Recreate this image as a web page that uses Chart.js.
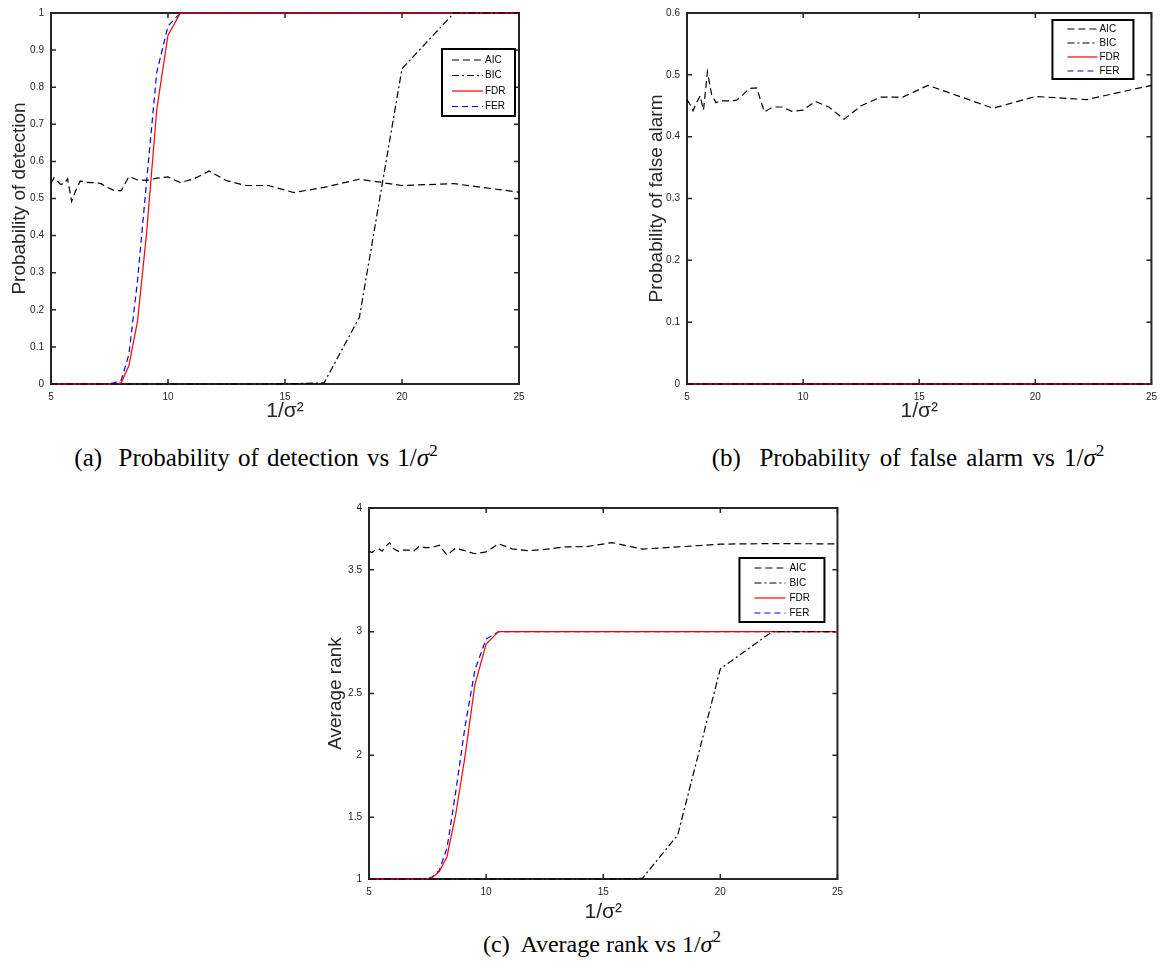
<!DOCTYPE html>
<html>
<head>
<meta charset="utf-8">
<script src="https://cdn.jsdelivr.net/npm/chart.js@4.4.1/dist/chart.umd.min.js"></script>
<style>
body{margin:0;background:#fff;width:1164px;height:966px;position:relative;overflow:hidden}
.box{position:absolute}
.cap{position:absolute;font-family:"Liberation Serif","Times New Roman",serif;font-size:25px;color:#000;white-space:nowrap;transform:translateX(-50%)}
.cap i{font-style:italic}
.cap sup{font-size:17px;vertical-align:10px;line-height:0}
</style>
</head>
<body>

<div class="box" style="left:0;top:0"><canvas id="pdChart" width="560" height="425"></canvas></div>
<div class="box" style="left:640px;top:0"><canvas id="pfaChart" width="524" height="425"></canvas></div>
<div class="box" style="left:320px;top:495px"><canvas id="rankChart" width="530" height="430"></canvas></div>

<div class="cap" style="left:256px;top:444px;word-spacing:2px">(a)&nbsp; Probability of detection vs 1/<i>σ</i><sup>2</sup></div>
<div class="cap" style="left:908px;top:444px;word-spacing:3px">(b)&nbsp; Probability of false alarm vs 1/<i>σ</i><sup>2</sup></div>
<div class="cap" style="left:602px;top:931px;font-size:24px">(c)&nbsp; Average rank vs 1/<i>σ</i><sup>2</sup></div>

<script>

// x values, 1/sigma^2
let snr = [5.0,5.13,5.26,5.41,5.56,5.71,5.88,6.06,6.25,6.45,6.67,6.9,7.14,7.41,7.69,8.0,8.33,8.7,9.09,9.52,10.0,10.53,11.11,11.76,12.5,13.33,14.29,15.38,16.67,18.18,20.0,22.22,25.0]

let labels = ["AIC","BIC","FDR","FER"]

// (a) probability of detection
let pdAIC = [0.541,0.556,0.548,0.538,0.540,0.553,0.492,0.522,0.547,0.544,0.543,0.543,0.540,0.530,0.522,0.521,0.559,0.550,0.549,0.555,0.558,0.543,0.553,0.574,0.548,0.535,0.535,0.516,0.530,0.552,0.535,0.540,0.517]
let pdBIC = [0,0,0,0,0,0,0,0,0,0,0,0,0,0,0,0,0,0,0,0,0,0,0,0,0,0,0,0.001,0.003,0.18,0.85,1,1]
let pdFDR = [0,0,0,0,0,0,0,0,0,0,0,0,0,0,0,0.003,0.05,0.17,0.41,0.74,0.94,1,1,1,1,1,1,1,1,1,1,1,1]
let pdFER = [0,0,0,0,0,0,0,0,0,0,0,0,0,0,0.003,0.01,0.08,0.28,0.55,0.84,0.965,1,1,1,1,1,1,1,1,1,1,1,1]

// (b) probability of false alarm
let pfaAIC = [0.460,0.452,0.442,0.455,0.466,0.443,0.505,0.468,0.455,0.458,0.458,0.458,0.459,0.468,0.478,0.479,0.440,0.448,0.448,0.441,0.443,0.457,0.448,0.428,0.450,0.464,0.464,0.483,0.466,0.446,0.465,0.460,0.483]
let pfaBIC = [0,0,0,0,0,0,0,0,0,0,0,0,0,0,0,0,0,0,0,0,0,0,0,0,0,0,0,0,0,0,0,0,0]
let pfaFDR = [0,0,0,0,0,0,0,0,0,0,0,0,0,0,0,0,0,0,0,0,0,0,0,0,0,0,0,0,0,0,0,0,0]
let pfaFER = [0,0,0,0,0,0,0,0,0,0,0,0,0,0,0,0,0,0,0,0,0,0,0,0,0,0,0,0,0,0,0,0,0]

// (c) average rank
let rankAIC = [3.65,3.64,3.66,3.67,3.65,3.69,3.72,3.67,3.65,3.66,3.66,3.65,3.69,3.68,3.68,3.70,3.62,3.675,3.655,3.63,3.645,3.71,3.67,3.655,3.665,3.685,3.688,3.72,3.668,3.685,3.708,3.712,3.71]
let rankBIC = [1,1,1,1,1,1,1,1,1,1,1,1,1,1,1,1,1,1,1,1,1,1,1,1,1,1,1,1,1.005,1.356,2.70,3,3]
let rankFDR = [1,1,1,1,1,1,1,1,1,1,1,1,1,1,1.01,1.06,1.18,1.52,1.98,2.57,2.90,3,3,3,3,3,3,3,3,3,3,3,3]
let rankFER = [1,1,1,1,1,1,1,1,1,1,1,1,1,1,1.015,1.07,1.25,1.70,2.22,2.69,2.94,3,3,3,3,3,3,3,3,3,3,3,3]


let axisColor = "#262626"
let sans = "'Liberation Sans', Arial, sans-serif"

let lineStyles = [
{color:"#000000", dash:[7,4]},
{color:"#000000", dash:[7,3,2,3]},
{color:"#ff0000", dash:[]},
{color:"#0000ff", dash:[6,4]}
]


// box round the plot with inward ticks on every side, like matlab
let framePlugin = {
id:"frame",
beforeDatasetsDraw(chart){
let ctx = chart.ctx
let a = chart.chartArea
let xs = chart.scales.x
let ys = chart.scales.y
ctx.save()
ctx.strokeStyle = axisColor
ctx.lineWidth = 2
ctx.strokeRect(a.left, a.top, a.right - a.left, a.bottom - a.top)
ctx.lineWidth = 1.5
ctx.beginPath()
xs.ticks.forEach(t => {
let px = xs.getPixelForValue(t.value)
ctx.moveTo(px, a.bottom); ctx.lineTo(px, a.bottom - 5)
ctx.moveTo(px, a.top); ctx.lineTo(px, a.top + 5)
})
ys.ticks.forEach(t => {
let py = ys.getPixelForValue(t.value)
ctx.moveTo(a.left, py); ctx.lineTo(a.left + 5, py)
ctx.moveTo(a.right, py); ctx.lineTo(a.right - 5, py)
})
ctx.stroke()
ctx.restore()
}
}


// boxed legend in the top right corner
let legendPlugin = {
id:"boxLegend",
afterDatasetsDraw(chart, args, opts){
let ctx = chart.ctx
let a = chart.chartArea
let x0 = a.right - opts.right - opts.w
let y0 = a.top + opts.top
ctx.save()
ctx.fillStyle = "#fff"
ctx.fillRect(x0, y0, opts.w, opts.h)
ctx.strokeStyle = "#000"
ctx.lineWidth = 2
ctx.strokeRect(x0, y0, opts.w, opts.h)
ctx.font = "10px " + sans
ctx.textBaseline = "middle"
chart.data.datasets.forEach((ds, i) => {
let y = y0 + opts.first + i * opts.gap
ctx.strokeStyle = ds.borderColor
ctx.lineWidth = 1.2
ctx.setLineDash(ds.borderDash)
ctx.beginPath()
ctx.moveTo(x0 + opts.s0, y)
ctx.lineTo(x0 + opts.s1, y)
ctx.stroke()
ctx.setLineDash([])
ctx.fillStyle = "#000"
ctx.fillText(ds.label, x0 + opts.tx, y)
})
ctx.restore()
}
}


function tickText(v){
return String(Number(v.toFixed(2)))
}


function makeChart(id, series, yRange, yTitle, geo, leg){

let datasets = series.map((vals, i) => ({
label:labels[i],
data:snr.map((x, j) => ({x:x, y:vals[j]})),
borderColor:lineStyles[i].color,
borderDash:lineStyles[i].dash,
borderWidth:1.2,
pointRadius:0,
tension:0,
fill:false,
clip:false
}))

return new Chart(document.getElementById(id), {
type:"line",
data:{datasets:datasets},
options:{
responsive:false,
animation:false,
devicePixelRatio:1,
layout:{padding:{left:0, top:geo.top, right:geo.right, bottom:0}},
plugins:{
legend:{display:false},
tooltip:{enabled:false},
boxLegend:leg
},
scales:{
x:{
type:"linear", min:5, max:25,
grid:{display:false, drawTicks:false},
border:{display:false},
ticks:{stepSize:5, padding:7, color:axisColor, font:{family:sans, size:10}, callback:tickText},
title:{display:true, text:"1/σ²", color:axisColor, font:{family:sans, size:21}, padding:{top:0, bottom:geo.xPad}},
afterFit(s){ s.height = geo.xh }
},
y:{
type:"linear", min:yRange[0], max:yRange[1],
grid:{display:false, drawTicks:false},
border:{display:false},
ticks:{stepSize:yRange[2], padding:7, color:axisColor, font:{family:sans, size:10}, callback:tickText},
title:{display:true, text:yTitle, color:axisColor, font:{family:sans, size:19}, padding:{top:geo.yPad, bottom:0}},
afterFit(s){ s.width = geo.yw }
}
}
},
plugins:[framePlugin, legendPlugin]
})

}


makeChart("pdChart", [pdAIC, pdBIC, pdFDR, pdFER], [0, 1, 0.1], "Probability of detection",
{top:13, right:41, yw:51, xh:41, xPad:1, yPad:8},
{right:4, top:36, w:73, h:67, first:11, gap:15.5, s0:10, s1:41, tx:43})

makeChart("pfaChart", [pfaAIC, pfaBIC, pfaFDR, pfaFER], [0, 0.6, 0.1], "Probability of false alarm",
{top:13, right:7, yw:47, xh:41, xPad:1, yPad:5},
{right:18, top:7, w:81, h:59, first:9, gap:14, s0:15, s1:45, tx:47})

makeChart("rankChart", [rankAIC, rankBIC, rankFDR, rankFER], [1, 4, 0.5], "Average rank",
{top:13, right:12, yw:49, xh:46, xPad:0.5, yPad:4.5},
{right:13, top:50, w:85, h:64, first:10, gap:15, s0:15, s1:46, tx:50})

</script>
</body>
</html>
